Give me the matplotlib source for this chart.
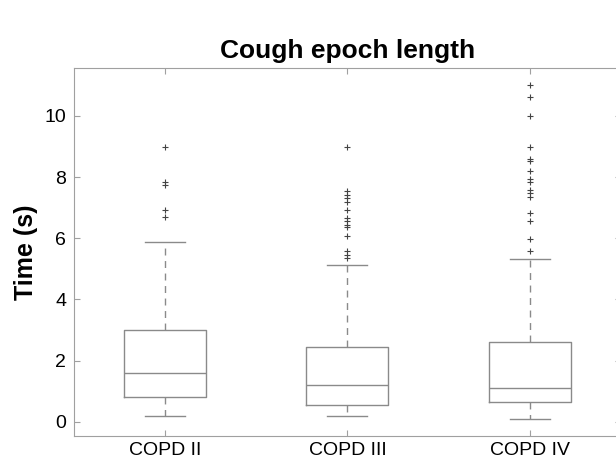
import matplotlib
matplotlib.use("Agg")
import matplotlib.pyplot as plt

plt.rcParams['font.family'] = ['Liberation Sans', 'DejaVu Sans']

# groups and box statistics
groups = ['COPD II', 'COPD III', 'COPD IV']
whislo = [0.2, 0.2, 0.09]
q1 = [0.83, 0.56, 0.64]
med = [1.59, 1.21, 1.12]
q3 = [3.0, 2.44, 2.6]
whishi = [5.88, 5.13, 5.33]
fliers = [
    [6.69, 6.93, 7.75, 7.85, 8.98],
    [5.35, 5.46, 5.57, 6.06, 6.38, 6.44, 6.55, 6.66, 6.93, 7.2, 7.31, 7.42, 7.53, 8.98],
    [5.6, 5.98, 6.55, 6.82, 7.36, 7.47, 7.58, 7.85, 7.94, 8.21, 8.51, 8.59, 8.98, 9.98, 10.63, 11.01],
]
yticks = [0, 2, 4, 6, 8, 10]

stats = []
for i, g in enumerate(groups):
    stats.append({'label': g, 'whislo': whislo[i], 'q1': q1[i], 'med': med[i],
                  'q3': q3[i], 'whishi': whishi[i], 'fliers': fliers[i]})

fig = plt.figure(figsize=(6.16, 4.62), dpi=100)
ax = fig.add_axes([0.120, 0.0563, 0.888, 0.797])

gray = '#8a8a8a'
ax.bxp(stats, widths=0.45,
       boxprops=dict(color=gray, linewidth=1.0),
       medianprops=dict(color=gray, linewidth=1.0),
       whiskerprops=dict(color=gray, linewidth=1.0, linestyle=(0, (5, 4))),
       capprops=dict(color=gray, linewidth=1.0),
       capwidths=0.22,
       flierprops=dict(marker='+', markeredgecolor='#444444', markersize=4, markeredgewidth=0.8, linestyle='none'))

ax.set_xlim(0.5, 3.5)
ax.set_ylim(-0.46, 11.57)
ax.set_yticks(yticks)
ax.set_xticks([1, 2, 3])
ax.set_xticklabels(groups)

for s in ax.spines.values():
    s.set_color('#a0a0a0')
ax.tick_params(direction='in', length=4.5, color='#a0a0a0', labelsize=14, top=True, right=True)
ax.tick_params(axis='y', pad=5.5)
ax.tick_params(axis='x', pad=4)

ax.set_title('Cough epoch length', fontsize=19, fontweight='bold', pad=7)
ax.set_ylabel('Time (s)', fontsize=18, fontweight='bold', labelpad=4.5)

fig.savefig('out.png', dpi=100)
